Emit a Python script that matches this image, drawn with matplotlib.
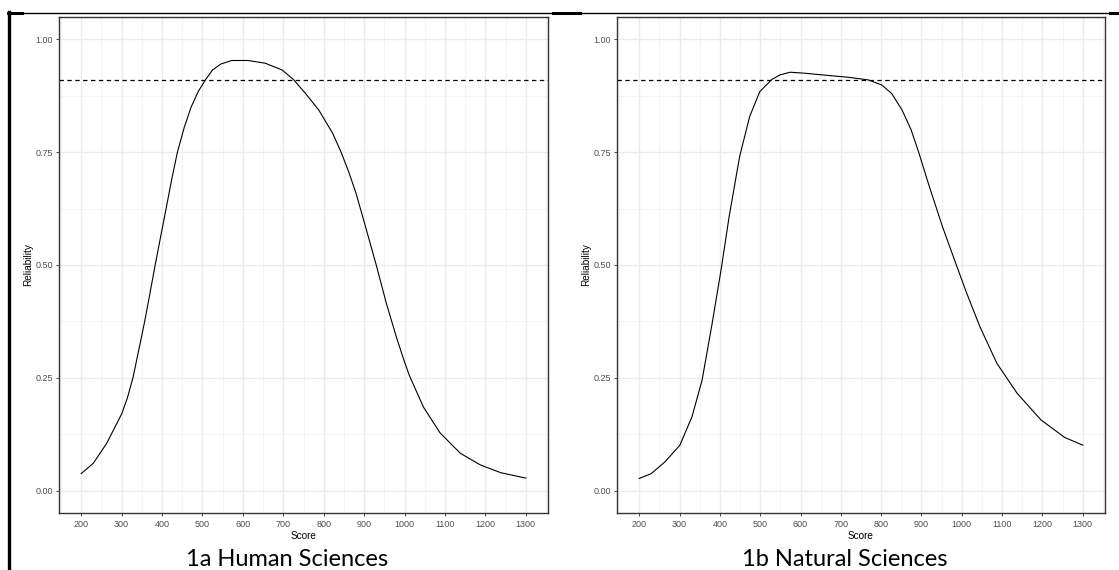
import matplotlib.pyplot as plt
from matplotlib.lines import Line2D
from matplotlib.ticker import MultipleLocator

# ---------------- reliability curves ----------------
human_score = [200, 230, 263, 300, 314, 328, 342, 357, 370, 383, 397, 410, 424,
               438, 455, 472, 490, 508, 525, 545, 572, 613, 655, 697, 725, 755,
               788, 822, 843, 862, 880, 905, 930, 955, 980, 1000, 1013, 1047,
               1088, 1138, 1188, 1238, 1300]
human_rel = [0.038, 0.061, 0.105, 0.170, 0.205, 0.250, 0.310, 0.375, 0.437,
             0.500, 0.565, 0.625, 0.690, 0.750, 0.805, 0.850, 0.885, 0.911,
             0.932, 0.945, 0.953, 0.953, 0.947, 0.932, 0.911, 0.880, 0.843,
             0.792, 0.750, 0.706, 0.659, 0.580, 0.500, 0.415, 0.340, 0.285,
             0.253, 0.185, 0.128, 0.083, 0.057, 0.040, 0.028]

natural_score = [200, 230, 264, 301, 331, 356, 381, 403, 423, 449, 474, 499,
                 529, 549, 574, 608, 667, 717, 768, 801, 826, 852, 874, 894,
                 919, 952, 986, 1011, 1045, 1087, 1137, 1196, 1255, 1300]
natural_rel = [0.027, 0.038, 0.064, 0.101, 0.164, 0.245, 0.371, 0.489, 0.607,
               0.740, 0.829, 0.884, 0.911, 0.921, 0.927, 0.925, 0.920, 0.916,
               0.910, 0.899, 0.880, 0.843, 0.800, 0.747, 0.675, 0.585, 0.501,
               0.440, 0.363, 0.282, 0.216, 0.157, 0.118, 0.101]

cutoff = 0.91
x_ticks = list(range(200, 1301, 100))
y_ticks = [0.00, 0.25, 0.50, 0.75, 1.00]
captions = ['1a Human Sciences', '1b Natural Sciences']
caption_x = [287, 845]

W, H = 1119, 570
fig = plt.figure(figsize=(W / 100, H / 100), dpi=100)


def px_box(x0, x1, y0, y1):
    # pixel box (top-left origin) -> figure fraction rect
    return [x0 / W, 1 - y1 / H, (x1 - x0) / W, (y1 - y0) / H]


panels = [(px_box(59, 548, 16.7, 513.3), human_score, human_rel),
          (px_box(617, 1105, 16.7, 513.3), natural_score, natural_rel)]

for (rect, xs, ys), cap, cx in zip(panels, captions, caption_x):
    ax = fig.add_axes(rect)
    ax.set_xlim(145, 1355)
    ax.set_ylim(-0.05, 1.05)
    ax.set_xticks(x_ticks)
    ax.set_xticklabels([str(v) for v in x_ticks], family='Liberation Sans')
    ax.xaxis.set_minor_locator(MultipleLocator(50))
    ax.set_yticks(y_ticks)
    ax.set_yticklabels(['%.2f' % v for v in y_ticks], family='Liberation Sans')
    ax.yaxis.set_minor_locator(MultipleLocator(0.125))

    ax.grid(which='major', color='#EBEBEB', lw=1.0)
    ax.grid(which='minor', color='#F2F2F2', lw=0.6)
    ax.set_axisbelow(True)
    for s in ax.spines.values():
        s.set_color('#333333')
        s.set_linewidth(1.0)
    ax.tick_params(which='major', length=2.5, width=0.6, color='#333333',
                   labelsize=6.5, labelcolor='#4D4D4D', pad=2)
    ax.tick_params(which='minor', length=0)

    ax.axhline(cutoff, color='black', lw=0.9, ls=(0, (3.5, 2.8)))
    ax.plot(xs, ys, color='black', lw=0.8)

    ax.set_xlabel('Score', fontsize=7.2, family='Liberation Sans', labelpad=2)
    ax.set_ylabel('Reliability', fontsize=7.2, family='Liberation Sans', labelpad=1.5)

    fig.text(cx / W, 1 - 560 / H, cap, ha='center', va='center',
             fontsize=17, family='Lato')

# table-style frame around the figure
blk = 'black'
fig.add_artist(Line2D([8 / W, 1], [1 - 13 / H] * 2, color=blk, lw=1.0,
                      transform=fig.transFigure))
for xa, xb in [(8, 22), (553, 580), (1110, 1119)]:
    fig.add_artist(Line2D([xa / W, xb / W], [1 - 13 / H] * 2, color=blk, lw=2.2,
                          transform=fig.transFigure))
fig.add_artist(Line2D([9 / W] * 2, [0, 1 - 12 / H], color=blk, lw=2.4,
                      transform=fig.transFigure))

fig.savefig('out.png', dpi=100)
